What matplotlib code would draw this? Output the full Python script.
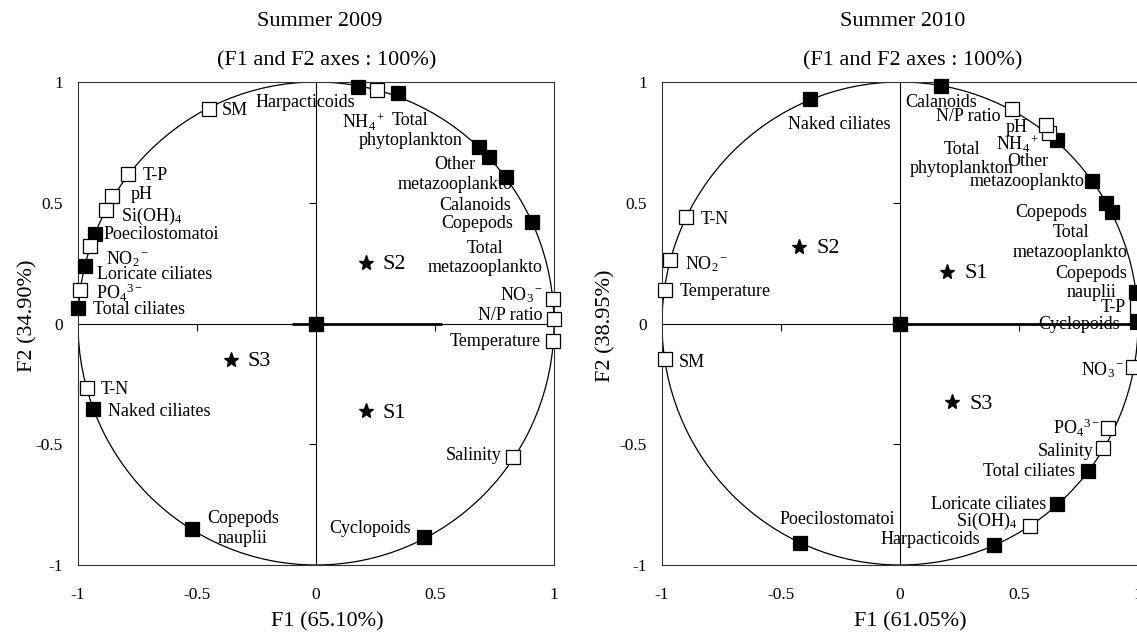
import matplotlib
matplotlib.use("Agg")
import matplotlib.pyplot as plt
from matplotlib.patches import Circle

plt.rcParams['font.family'] = ['Liberation Serif', 'DejaVu Serif']
plt.rcParams['mathtext.fontset'] = 'custom'
plt.rcParams['mathtext.rm'] = 'Liberation Serif'
plt.rcParams['mathtext.it'] = 'Liberation Serif:italic'
plt.rcParams['mathtext.bf'] = 'Liberation Serif:bold'
plt.rcParams['axes.unicode_minus'] = False

# ---------------- data: Summer 2009 ----------------
vars_2009 = ['SM', 'T-P', 'pH', r'$\mathrm{Si(OH)_4}$', 'Poecilostomatoi',
             r'$\mathrm{NO_2{}^-}$', 'Loricate ciliates', r'$\mathrm{PO_4{}^{3-}}$',
             'Total ciliates', 'T-N', 'Naked ciliates', 'Copepods\nnauplii',
             'Cyclopoids', 'Salinity', 'Temperature', 'N/P ratio',
             r'$\mathrm{NO_3{}^-}$', 'Total\nmetazooplankto', 'Copepods', 'Calanoids',
             'Other\nmetazooplankto', 'Total\nphytoplankton', r'$\mathrm{NH_4{}^+}$',
             'Harpacticoids']
f1_2009 = [-0.45, -0.79, -0.856, -0.884, -0.93, -0.95, -0.97, -0.99, -1.0, -0.963,
           -0.935, -0.522, 0.452, 0.829, 0.997, 1.0, 0.994, 0.906,
           0.798, 0.728, 0.686, 0.346, 0.258, 0.175]
f2_2009 = [0.89, 0.62, 0.53, 0.47, 0.37, 0.32, 0.24, 0.14, 0.065, -0.266,
           -0.353, -0.85, -0.885, -0.553, -0.073, 0.017, 0.10, 0.42,
           0.605, 0.69, 0.73, 0.953, 0.967, 0.98]
biotic_2009 = [0, 0, 0, 0, 1, 0, 1, 0, 1, 0,
               1, 1, 1, 0, 0, 0, 0, 1,
               1, 1, 1, 1, 0, 1]
sites = ['S1', 'S2', 'S3']
site_f1_2009 = [0.21, 0.21, -0.358]
site_f2_2009 = [-0.364, 0.252, -0.15]
bar_2009 = [-0.1, 0.53]

# ---------------- data: Summer 2010 ----------------
vars_2010 = ['Naked ciliates', 'T-N', r'$\mathrm{NO_2{}^-}$', 'Temperature', 'SM',
             'Poecilostomatoi', 'Harpacticoids', r'$\mathrm{Si(OH)_4}$',
             'Loricate ciliates', 'Total ciliates', 'Salinity',
             r'$\mathrm{PO_4{}^{3-}}$', r'$\mathrm{NO_3{}^-}$', 'Cyclopoids',
             'T-P', 'Copepods\nnauplii', 'Total\nmetazooplankto', 'Copepods',
             'Other\nmetazooplankto', 'Total\nphytoplankton', r'$\mathrm{NH_4{}^+}$',
             'pH', 'N/P ratio', 'Calanoids']
f1_2010 = [-0.378, -0.899, -0.966, -0.987, -0.987, -0.42, 0.395, 0.546, 0.661,
           0.789, 0.855, 0.873, 0.978, 0.997, 0.995, 0.99, 0.889, 0.864,
           0.805, 0.658, 0.626, 0.612, 0.472, 0.171]
f2_2010 = [0.928, 0.44, 0.263, 0.139, -0.147, -0.908, -0.917, -0.837, -0.749,
           -0.611, -0.517, -0.431, -0.179, 0.005, 0.07, 0.13, 0.463, 0.498,
           0.591, 0.76, 0.79, 0.822, 0.887, 0.985]
biotic_2010 = [1, 0, 0, 0, 0, 1, 1, 0, 1,
               1, 0, 0, 0, 1, 0, 1, 1, 1,
               1, 1, 0, 0, 0, 1]
site_f1_2010 = [0.199, -0.423, 0.22]
site_f2_2010 = [0.214, 0.318, -0.326]
bar_2010 = [0.0, 0.98]

ticks = [-1, -0.5, 0, 0.5, 1]
tick_labels = ['-1', '-0.5', '0', '0.5', '1']

# label placement (ha, dx px, dy px) relative to each marker
layout_2009 = [('left', 13, -2), ('left', 15, -2), ('left', 18, 1), ('left', 15, -6),
               ('left', 9, 0), ('left', 16, -13), ('left', 12, -9), ('left', 16, -3),
               ('left', 15, -2), ('left', 14, -2), ('left', 15, -3), ('center', 51, 0),
               ('right', -13, 9), ('right', -12, 2), ('right', -12, 0), ('right', -11, 4),
               ('right', -9, 4), ('center', -47, -36), ('center', -29, -46),
               ('center', -14, -49), ('center', -24, -27), ('center', 12, -37),
               ('center', -14, -32), ('right', -3, -16)]
layout_2010 = [('center', 29, -25), ('left', 15, -2), ('left', 15, -4), ('left', 15, -2),
               ('left', 14, -3), ('center', 37, 23), ('right', -14, 5), ('right', -13, 4),
               ('right', -11, 0), ('right', -13, 0), ('right', -10, -3), ('right', -8, 0),
               ('right', -8, -3), ('right', -17, -2), ('right', -11, -1), ('center', -44, 9),
               ('center', -41, -31), ('center', -54, -9), ('center', -64, 9),
               ('center', -95, -19), ('center', -31, -12), ('center', -29, -3),
               ('right', -12, -7), ('center', 0, -17)]

W, H = 1137, 634
fig = plt.figure(figsize=(W / 100, H / 100), dpi=100)


def draw_panel(left_px, names, f1, f2, biotic, s_f1, s_f2, layout, bar):
    ax = fig.add_axes([left_px / W, (H - 565) / H, 476 / W, 483 / H])
    ax.set_xlim(-1, 1)
    ax.set_ylim(-1, 1)
    for sp in ax.spines.values():
        sp.set_linewidth(0.8)
        sp.set_color('#333333')
    ax.set_xticks(ticks)
    ax.set_xticklabels(tick_labels)
    ax.set_yticks(ticks)
    ax.set_yticklabels(tick_labels)
    ax.tick_params(axis='x', length=0, pad=16, labelsize=12.5)
    ax.tick_params(axis='y', length=0, pad=11, labelsize=12.5)

    # crossing axes at the origin, Excel style
    ax.axhline(0, color='black', lw=0.8, zorder=1)
    ax.axvline(0, color='black', lw=0.8, zorder=1)
    ax.plot([t for t in ticks if t not in (-1, 0, 1)], [0, 0], ls='none',
            marker=3, ms=5, mew=0.8, color='black')
    ax.plot([0, 0], [t for t in ticks if t not in (-1, 0, 1)], ls='none',
            marker=0, ms=5, mew=0.8, color='black')
    ax.plot(bar, [0, 0], color='black', lw=2, solid_capstyle='butt', zorder=2)

    ax.add_patch(Circle((0, 0), 1, fill=False, lw=0.9, color='black', zorder=2))

    for name, x, y, b, (ha, dx, dy) in zip(names, f1, f2, biotic, layout):
        ax.plot(x, y, marker='s', ms=9.5, mec='black', mew=0.9,
                mfc='black' if b else 'white', clip_on=False, zorder=4)
        ax.annotate(name, (x, y), xytext=(dx, dy), textcoords='offset pixels',
                    ha=ha, va='center', multialignment='center', fontsize=13,
                    annotation_clip=False, zorder=5)
    ax.plot(0, 0, marker='s', ms=10.5, color='black', zorder=4)

    for s, x, y in zip(sites, s_f1, s_f2):
        ax.plot(x, y, marker='*', ms=11, color='black', ls='none', zorder=4)
        ax.annotate(s, (x, y), xytext=(17, -2), textcoords='offset pixels',
                    ha='left', va='center', fontsize=16)
    return ax


draw_panel(78, vars_2009, f1_2009, f2_2009, biotic_2009,
           site_f1_2009, site_f2_2009, layout_2009, bar_2009)
draw_panel(662, vars_2010, f1_2010, f2_2010, biotic_2010,
           site_f1_2010, site_f2_2010, layout_2010, bar_2010)


def ftext(x_px, y_px, s, **kw):
    fig.text(x_px / W, 1 - y_px / H, s, ha='center', va='center', fontsize=16, **kw)


ftext(320, 22, 'Summer 2009')
ftext(327, 61, '(F1 and F2 axes : 100%)')
ftext(903, 22, 'Summer 2010')
ftext(913, 61, '(F1 and F2 axes : 100%)')
ftext(327, 622, 'F1 (65.10%)')
ftext(910, 622, 'F1 (61.05%)')
ftext(28, 316, 'F2 (34.90%)', rotation=90)
ftext(606, 326, 'F2 (38.95%)', rotation=90)

fig.savefig('out.png', dpi=100)
